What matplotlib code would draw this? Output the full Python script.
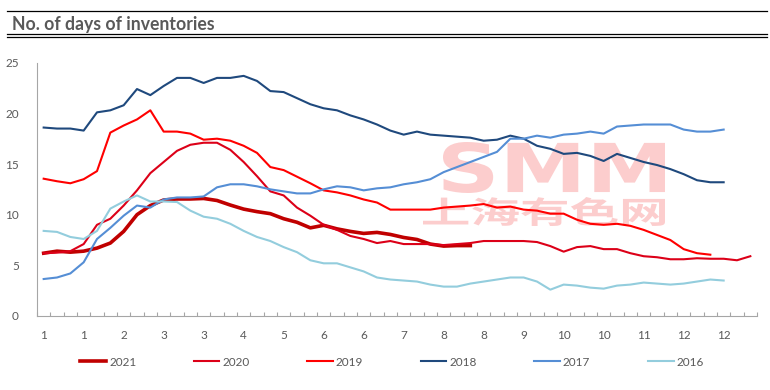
import numpy as np
import matplotlib
matplotlib.use('Agg')
import matplotlib.pyplot as plt
from matplotlib.lines import Line2D
from matplotlib.patches import PathPatch
from matplotlib.textpath import TextPath
from matplotlib.font_manager import FontProperties
from matplotlib.transforms import Affine2D

W, H = 770, 390

# weekly days-of-inventory values
y2021 = [6.2, 6.4, 6.3, 6.4, 6.7, 7.2, 8.35, 10.0, 10.9, 11.45,
         11.55, 11.55, 11.6, 11.4, 10.95, 10.55, 10.3, 10.1, 9.6, 9.25,
         8.7, 8.95, 8.6, 8.35, 8.15, 8.25, 8.05, 7.75, 7.55, 7.1,
         6.9, 6.95, 6.95]
y2020 = [6.2, 6.25, 6.4, 7.1, 9.0, 9.6, 10.9, 12.4, 14.1, 15.2,
         16.3, 16.9, 17.1, 17.1, 16.4, 15.2, 13.8, 12.3, 11.9, 10.7,
         9.9, 9.0, 8.5, 7.9, 7.6, 7.2, 7.4, 7.1, 7.1, 7.1,
         7.0, 7.1, 7.2, 7.4, 7.4, 7.4, 7.4, 7.3, 6.9, 6.35,
         6.8, 6.9, 6.6, 6.6, 6.2, 5.9, 5.8, 5.6, 5.6, 5.7,
         5.65, 5.65, 5.5, 5.9]
y2019 = [13.55, 13.3, 13.1, 13.5, 14.3, 18.1, 18.8, 19.4, 20.3, 18.2,
         18.2, 18.0, 17.4, 17.5, 17.3, 16.8, 16.1, 14.7, 14.4, 13.75,
         13.1, 12.4, 12.2, 11.9, 11.5, 11.2, 10.5, 10.5, 10.5, 10.5,
         10.7, 10.8, 10.9, 11.05, 10.7, 10.8, 10.5, 10.4, 10.1, 10.1,
         9.5, 9.1, 9.0, 9.1, 8.9, 8.5, 8.0, 7.5, 6.6, 6.2,
         6.05]
y2018 = [18.6, 18.5, 18.5, 18.3, 20.1, 20.3, 20.8, 22.4, 21.8, 22.7,
         23.5, 23.5, 23.0, 23.5, 23.5, 23.7, 23.2, 22.2, 22.1, 21.5,
         20.9, 20.5, 20.3, 19.8, 19.4, 18.9, 18.3, 17.9, 18.2, 17.9,
         17.8, 17.7, 17.6, 17.3, 17.4, 17.8, 17.5, 16.8, 16.5, 16.0,
         16.1, 15.8, 15.3, 16.0, 15.6, 15.2, 14.9, 14.5, 14.0, 13.4,
         13.2, 13.2]
y2017 = [3.65, 3.8, 4.2, 5.3, 7.6, 8.7, 9.9, 10.9, 10.7, 11.5,
         11.7, 11.7, 11.8, 12.7, 13.0, 13.0, 12.8, 12.5, 12.3, 12.1,
         12.1, 12.5, 12.8, 12.7, 12.4, 12.6, 12.7, 13.0, 13.2, 13.5,
         14.2, 14.7, 15.2, 15.7, 16.2, 17.5, 17.5, 17.8, 17.6, 17.9,
         18.0, 18.2, 18.0, 18.7, 18.8, 18.9, 18.9, 18.9, 18.4, 18.2,
         18.2, 18.4]
y2016 = [8.4, 8.3, 7.8, 7.6, 8.4, 10.6, 11.3, 11.9, 11.3, 11.3,
         11.25, 10.4, 9.8, 9.6, 9.1, 8.4, 7.8, 7.4, 6.8, 6.3,
         5.5, 5.2, 5.2, 4.8, 4.4, 3.8, 3.6, 3.5, 3.4, 3.1,
         2.9, 2.9, 3.2, 3.4, 3.6, 3.8, 3.8, 3.4, 2.6, 3.1,
         3.0, 2.8, 2.7, 3.0, 3.1, 3.3, 3.2, 3.1, 3.2, 3.4,
         3.6, 3.5]

n_weeks = 54
month_labels = ['1', '1', '2', '3', '3', '4', '5', '6', '6',
                '7', '8', '8', '9', '10', '10', '11', '12', '12']

series = [
    ('2021', y2021, '#C00000', 2.6),
    ('2020', y2020, '#DC0018', 1.5),
    ('2019', y2019, '#FF0000', 1.5),
    ('2018', y2018, '#1F497D', 1.5),
    ('2017', y2017, '#558ED5', 1.5),
    ('2016', y2016, '#93CDDD', 1.5),
]

txt_color = '#595959'
axis_color = '#A6A6A6'

fig = plt.figure(figsize=(W / 100, H / 100), dpi=100)
ax = fig.add_axes([37 / W, 1 - 316 / H, 720 / W, (316 - 62.7) / H])


def px_tr(x0, y0, x1, y1, ext):
    # map a path extent into a box given in image pixels (top-left origin)
    sx = (x1 - x0) / ext.width
    sy = (y1 - y0) / ext.height
    return (Affine2D().translate(-ext.x0, -ext.y0).scale(sx, sy)
            .translate(x0, H - y1).scale(1 / W, 1 / H) + fig.transFigure)


def stamp(text, box, family):
    tp = TextPath((0, 0), text, size=100,
                  prop=FontProperties(family=family, weight='bold'))
    patch = PathPatch(tp, transform=px_tr(*box, tp.get_extents()),
                      facecolor='#FCCDCD', edgecolor='none', zorder=0.5,
                      clip_on=False)
    ax.add_patch(patch)


# watermark
stamp('SMM', (443, 142, 665, 193), 'DejaVu Sans')
stamp('上海有色网', (423, 197, 665, 226), 'Noto Sans CJK SC')

handles = []
for name, vals, col, lw in series:
    x = np.arange(len(vals))
    ln, = ax.plot(x, vals, color=col, lw=lw, label=name, zorder=2,
                  solid_joinstyle='round')
    handles.append(ln)

ax.set_xlim(-0.5, n_weeks - 0.5)
ax.set_ylim(0, 25)
ax.set_yticks(range(0, 26, 5))
ax.set_xticks(np.arange(0, n_weeks, 3))
ax.set_xticklabels(month_labels)
ax.set_xticks(np.arange(-0.5, n_weeks, 1), minor=True)

for s in ['top', 'right']:
    ax.spines[s].set_visible(False)
for s in ['left', 'bottom']:
    ax.spines[s].set_color(axis_color)
    ax.spines[s].set_linewidth(0.8)

ax.tick_params(axis='x', which='major', length=0, pad=10,
               labelsize=8.5, labelcolor=txt_color)
ax.tick_params(axis='x', which='minor', direction='in', length=3,
               color=axis_color, width=0.8)
ax.tick_params(axis='y', length=0, pad=13, labelsize=8.5, labelcolor=txt_color)
for lab in ax.get_xticklabels() + ax.get_yticklabels():
    lab.set_family('Lato')

leg = fig.legend(handles, [s[0] for s in series], loc='center',
                 bbox_to_anchor=(392 / W, 1 - 362 / H), ncol=6,
                 frameon=False, handlelength=2.2, handletextpad=0.25,
                 columnspacing=4.85, prop={'family': 'Lato', 'size': 8.5})
for t in leg.get_texts():
    t.set_color(txt_color)

# title block with its rules
fig.text(12 / W, 1 - 30 / H, 'No. of days of inventories', ha='left',
         va='baseline', fontsize=12.7, fontweight='bold', color=txt_color,
         family='Lato')
for yy in (10.5, 34.3, 36.7):
    fig.add_artist(Line2D([7 / W, 767 / W], [1 - yy / H, 1 - yy / H],
                          transform=fig.transFigure, color='black', lw=0.9))

fig.savefig('out.png', dpi=100)
